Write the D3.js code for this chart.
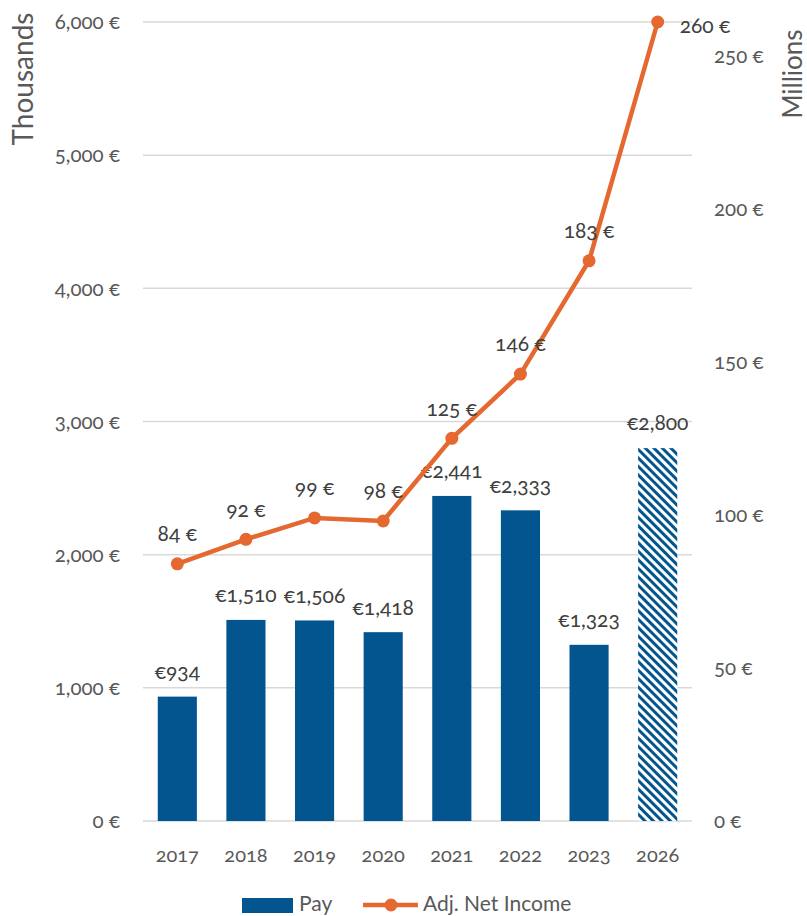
<!DOCTYPE html>
<html><head><meta charset="utf-8">
<script src="https://cdn.jsdelivr.net/npm/d3@7"></script>
<style>
body{margin:0;background:#fff;}
svg{font-family:Lato,"Open Sans",sans-serif;font-variant-numeric:oldstyle-nums;}
</style></head>
<body><svg id="c" width="807" height="916"></svg>
<script>
const categories = ["2017","2018","2019","2020","2021","2022","2023","2026"];
const payValues = [934,1510,1506,1418,2441,2333,1323,2800];
const payLabels = ["€934","€1,510","€1,506","€1,418","€2,441","€2,333","€1,323","€2,800"];
const incomeValues = [84,92,99,98,125,146,183,261];
const incomeLabels = ["84 €","92 €","99 €","98 €","125 €","146 €","183 €","260 €"];
const leftTicks = [0,1000,2000,3000,4000,5000,6000];
const rightTicks = [0,50,100,150,200,250];
const hatchedCategory = "2026";

(function(){
const svg = d3.select("#c");
const blue = "#02558F", orange = "#E4682F", txt = "#404040", tick = "#595959";
const pTop = 22, pBottom = 821, pLeft = 143, pRight = 692;

const x = d3.scaleBand().domain(categories).range([pLeft,pRight]).paddingInner(0.43).paddingOuter(0.215);
const yL = d3.scaleLinear().domain([0,6000]).range([pBottom,pTop]);
const yR = d3.scaleLinear().domain([0,261]).range([pBottom,pTop]);

const defs = svg.append("defs");
const pat = defs.append("pattern").attr("id","hatch").attr("patternUnits","userSpaceOnUse")
  .attr("width",6).attr("height",6).attr("patternTransform","rotate(-45)");
pat.append("rect").attr("width",6).attr("height",6).attr("fill","#fff");
pat.append("rect").attr("x",0).attr("width",3).attr("height",6).attr("fill",blue);

svg.append("g").selectAll("line").data(leftTicks).join("line")
  .attr("x1",pLeft).attr("x2",pRight).attr("y1",d=>yL(d)).attr("y2",d=>yL(d))
  .attr("stroke","#d9d9d9").attr("stroke-width",1.5);

const fmtL = d3.format(",");
svg.append("g").selectAll("text").data(leftTicks).join("text")
  .attr("x",120).attr("y",d=>yL(d)).attr("dy","0.35em").attr("text-anchor","end")
  .attr("font-size",20.5).attr("fill",tick).text(d=>fmtL(d)+" €");
svg.append("g").selectAll("text").data(rightTicks).join("text")
  .attr("x",714).attr("y",d=>yR(d)).attr("dy","0.35em").attr("text-anchor","start")
  .attr("font-size",20.5).attr("fill",tick).text(d=>d+" €");

svg.append("text").attr("transform","translate(33,79) rotate(-90)").attr("text-anchor","middle")
  .attr("font-size",28).attr("fill",tick).text("Thousands");
svg.append("text").attr("transform","translate(802,74) rotate(-90)").attr("text-anchor","middle")
  .attr("font-size",26).attr("fill",tick).text("Millions");

svg.append("g").selectAll("text").data(categories).join("text")
  .attr("x",d=>x(d)+x.bandwidth()/2).attr("y",855).attr("dy","0.35em").attr("text-anchor","middle")
  .attr("font-size",20).attr("fill",tick).text(d=>d);

svg.append("g").selectAll("rect").data(categories).join("rect")
  .attr("x",d=>x(d)).attr("width",x.bandwidth())
  .attr("y",(d,i)=>yL(payValues[i])).attr("height",(d,i)=>pBottom-yL(payValues[i]))
  .attr("fill",d=>d===hatchedCategory?"url(#hatch)":blue);

svg.append("g").selectAll("text").data(categories).join("text")
  .attr("x",d=>x(d)+x.bandwidth()/2).attr("y",(d,i)=>yL(payValues[i])-25).attr("dy","0.35em")
  .attr("text-anchor","middle").attr("font-size",21).attr("fill",txt).text((d,i)=>payLabels[i]);

const cx = d=>x(d)+x.bandwidth()/2;
const line = d3.line().x(d=>cx(d[0])).y(d=>yR(d[1]));
const pts = categories.map((c,i)=>[c,incomeValues[i]]);
svg.append("path").datum(pts).attr("d",line).attr("fill","none").attr("stroke",orange).attr("stroke-width",4.5);
svg.append("g").selectAll("circle").data(pts).join("circle")
  .attr("cx",d=>cx(d[0])).attr("cy",d=>yR(d[1])).attr("r",6.5).attr("fill",orange);

svg.append("g").selectAll("text").data(pts).join("text")
  .attr("x",(d,i)=>i===pts.length-1?cx(d[0])+22:cx(d[0]))
  .attr("y",(d,i)=>i===pts.length-1?yR(d[1])+4:yR(d[1])-30)
  .attr("dy","0.35em")
  .attr("text-anchor",(d,i)=>i===pts.length-1?"start":"middle")
  .attr("font-size",21).attr("fill",txt).text((d,i)=>incomeLabels[i]);

const lg = svg.append("g");
lg.append("rect").attr("x",242).attr("y",898).attr("width",51).attr("height",15).attr("fill",blue);
lg.append("text").attr("x",299).attr("y",904).attr("dy","0.35em").attr("font-size",21).attr("fill",tick).text("Pay");
lg.append("line").attr("x1",363).attr("x2",418).attr("y1",905).attr("y2",905).attr("stroke",orange).attr("stroke-width",4.5);
lg.append("circle").attr("cx",391).attr("cy",905).attr("r",6.5).attr("fill",orange);
lg.append("text").attr("x",423).attr("y",904).attr("dy","0.35em").attr("font-size",21).attr("fill",tick).text("Adj. Net Income");
})();
</script></body></html>
